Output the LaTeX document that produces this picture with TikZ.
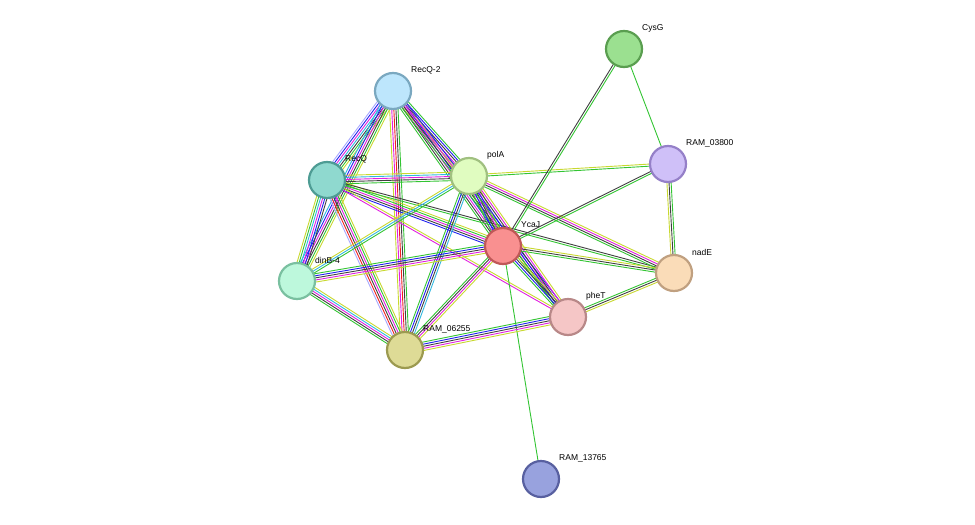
\documentclass[tikz,border=0pt]{standalone}
\usepackage{fontspec}
\setmainfont{Liberation Sans}
\usetikzlibrary{calc,backgrounds}
\definecolor{G}{HTML}{33C433}
\definecolor{B}{HTML}{2020F0}
\definecolor{M}{HTML}{E020E0}
\definecolor{C}{HTML}{30B8E0}
\definecolor{K}{HTML}{404040}
\definecolor{Y}{HTML}{C8D830}
\definecolor{R}{HTML}{F02020}
\definecolor{L}{HTML}{A8A8FF}
\definecolor{f1}{HTML}{9BE090}\definecolor{s1}{HTML}{5A9E50}
\definecolor{f2}{HTML}{BDE6FC}\definecolor{s2}{HTML}{7AA8C0}
\definecolor{f3}{HTML}{CFC0F8}\definecolor{s3}{HTML}{9580C8}
\definecolor{f4}{HTML}{8FD9CF}\definecolor{s4}{HTML}{4E9C94}
\definecolor{f5}{HTML}{E0FCC0}\definecolor{s5}{HTML}{A0C080}
\definecolor{f6}{HTML}{F99090}\definecolor{s6}{HTML}{C05858}
\definecolor{f7}{HTML}{FADCB8}\definecolor{s7}{HTML}{C0A080}
\definecolor{f8}{HTML}{BDF8DC}\definecolor{s8}{HTML}{7AC0A0}
\definecolor{f9}{HTML}{F5C6C6}\definecolor{s9}{HTML}{B88888}
\definecolor{f10}{HTML}{DEDB96}\definecolor{s10}{HTML}{9C9A50}
\definecolor{f11}{HTML}{98A2DE}\definecolor{s11}{HTML}{5860A0}
\newcommand\medge[3]{%
 \foreach \c [count=\i] in {#3} {\xdef\nn{\i}}%
 \foreach \c [count=\i] in {#3} {%
   \pgfmathsetmacro\off{(\i-(\nn+1)/2)*2.1}%
   \draw[\c, line width=0.9pt] ($(#1)!\off pt!90:(#2)$) -- ($(#2)!\off pt!-90:(#1)$);
 }}
\tikzset{
 prot/.style={circle, minimum size=36pt, inner sep=0pt, line width=2.2pt, fill=f#1, draw=s#1},
 lab/.style={font=\fontsize{8.5}{10}\selectfont, anchor=west, inner sep=1pt}
}
\begin{document}
\begin{tikzpicture}[x=1pt,y=-1pt]
\useasboundingbox (0,0) rectangle (975,525);
\node[prot=1] (cysg) at (624,49) {};
\node[prot=2] (recq2) at (393,91) {};
\node[prot=3] (r038) at (668,164) {};
\node[prot=4] (recq) at (327,180) {};
\node[prot=5] (pola) at (469,176) {};
\node[prot=6] (ycaj) at (503,246) {};
\node[prot=7] (nade) at (674,273) {};
\node[prot=8] (dinb) at (297,281) {};
\node[prot=9] (phet) at (568,317) {};
\node[prot=10] (r062) at (405,350) {};
\node[prot=11] (r137) at (541,479) {};
\begin{scope}[on background layer]
\medge{recq2}{recq}{L,B,M,C,K,G,Y}
\medge{recq2}{pola}{Y,M,K,B,G}
\medge{recq2}{ycaj}{G,K,M,B,Y}
\medge{recq2}{r062}{Y,M,R,K,G}
\medge{recq2}{dinb}{C,B,M,K,G,Y}
\medge{recq2}{phet}{G,K,M,B}
\medge{recq}{pola}{G,K,M,C,Y}
\medge{recq}{dinb}{Y,G,C,M,B,K}
\medge{recq}{r062}{L,R,K,M,G,Y}
\medge{recq}{ycaj}{B,K,M,G,Y}
\medge{recq}{phet}{M,Y}
\medge{recq}{nade}{G,K}
\medge{pola}{dinb}{Y,C,G}
\medge{pola}{r062}{G,B,K,C}
\medge{pola}{ycaj}{G,B,K,M,Y}
\medge{pola}{phet}{G,B,K,M,Y}
\medge{pola}{nade}{G,K,M,Y}
\medge{pola}{r038}{G,Y}
\medge{ycaj}{dinb}{G,B,K,M,Y}
\medge{ycaj}{r062}{G,K,M,Y}
\medge{ycaj}{phet}{G,B,K,Y}
\medge{ycaj}{nade}{G,K,Y}
\medge{ycaj}{r038}{G,K}
\medge{ycaj}{cysg}{G,K}
\medge{ycaj}{r137}{G}
\medge{cysg}{r038}{G}
\medge{r038}{nade}{Y,K,G}
\medge{nade}{phet}{G,K,Y}
\medge{phet}{r062}{G,B,K,M,Y}
\medge{dinb}{r062}{G,K,M,C,Y}
\end{scope}
\foreach \n/\t in {cysg/CysG,recq2/RecQ-2,r038/RAM\_03800,recq/RecQ,pola/polA,ycaj/YcaJ,nade/nadE,dinb/dinB-4,phet/pheT,r062/RAM\_06255,r137/RAM\_13765}
  \node[lab] (l\n) at ($(\n)+(17,-21)$) {\t};
\end{tikzpicture}
\end{document}
